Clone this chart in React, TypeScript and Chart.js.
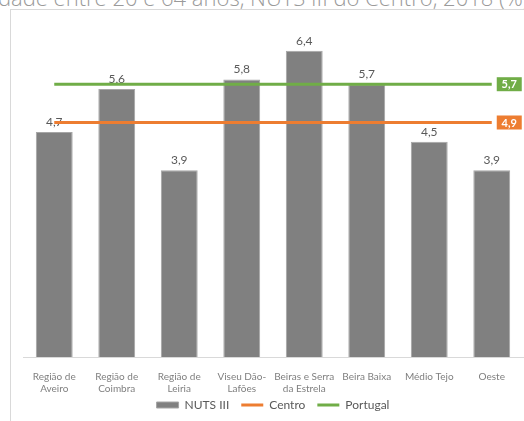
import React, { useEffect, useRef } from "react";
import { Chart, registerables } from "chart.js";

Chart.register(...registerables);

const categories: string[][] = [
  ["Região de", "Aveiro"],
  ["Região de", "Coimbra"],
  ["Região de", "Leiria"],
  ["Viseu Dão-", "Lafões"],
  ["Beiras e Serra", "da Estrela"],
  ["Beira Baixa"],
  ["Médio Tejo"],
  ["Oeste"],
];
const nutsValues = [4.7, 5.6, 3.9, 5.8, 6.4, 5.7, 4.5, 3.9];
const centroValue = 4.9;
const portugalValue = 5.7;
const seriesNames = ["NUTS III", "Centro", "Portugal"];
const titleText = "idade entre 20 e 64 anos, NUTS III do Centro, 2018 (%)";

const fmt = (v: number) => v.toFixed(1).replace(".", ",");

const FONT = "Lato, 'Open Sans', sans-serif";

export default function App() {
  const ref = useRef<HTMLCanvasElement | null>(null);

  useEffect(() => {
    if (!ref.current) return;
    const barLabels = {
      id: "barLabels",
      afterDatasetDraw(chart: any, args: any) {
        if (args.index !== 0) return;
        const ctx = chart.ctx;
        const meta = chart.getDatasetMeta(0);
        ctx.save();
        ctx.font = `12px ${FONT}`;
        ctx.fillStyle = "#595959";
        ctx.textAlign = "center";
        ctx.textBaseline = "alphabetic";
        meta.data.forEach((el: any, i: number) => {
          ctx.fillText(fmt(nutsValues[i]), el.x, el.y - 6);
        });
        ctx.restore();
      },
    };
    const endBoxes = {
      id: "endBoxes",
      afterDatasetsDraw(chart: any) {
        const ctx = chart.ctx;
        ctx.save();
        [1, 2].forEach((di) => {
          const ds = chart.data.datasets[di];
          const meta = chart.getDatasetMeta(di);
          const last = meta.data[meta.data.length - 1];
          const x = last.x + 5;
          const y = last.y;
          ctx.fillStyle = ds.borderColor;
          ctx.fillRect(x, y - 7, 25, 14);
          ctx.fillStyle = "#ffffff";
          ctx.font = `bold 11px ${FONT}`;
          ctx.textAlign = "center";
          ctx.textBaseline = "middle";
          ctx.fillText(fmt(ds.data[ds.data.length - 1]), x + 12.5, y + 0.5);
        });
        ctx.restore();
      },
    };

    const chart = new Chart(ref.current, {
      type: "bar",
      data: {
        labels: categories,
        datasets: [
          {
            type: "bar",
            label: seriesNames[0],
            data: nutsValues,
            backgroundColor: "#808080",
            borderColor: "#a6a6a6",
            borderWidth: 1,
            categoryPercentage: 1,
            barPercentage: 0.59,
            order: 2,
            pointStyle: "rect",
          } as any,
          {
            type: "line",
            label: seriesNames[1],
            data: categories.map(() => centroValue),
            borderColor: "#ed7d31",
            backgroundColor: "#ed7d31",
            borderWidth: 3,
            pointRadius: 0,
            pointStyle: "line",
            order: 1,
          } as any,
          {
            type: "line",
            label: seriesNames[2],
            data: categories.map(() => portugalValue),
            borderColor: "#70ad47",
            backgroundColor: "#70ad47",
            borderWidth: 3,
            pointRadius: 0,
            pointStyle: "line",
            order: 0,
          } as any,
        ],
      },
      options: {
        animation: false,
        responsive: false,
        maintainAspectRatio: false,
        layout: { padding: { left: 23, right: 1, top: 22, bottom: 0 } },
        plugins: {
          tooltip: { enabled: false },
          legend: {
            position: "bottom",
            labels: {
              usePointStyle: true,
              pointStyleWidth: 22,
              boxHeight: 6,
              padding: 0,
              color: "#595959",
              font: { family: FONT, size: 12 },
              sort: (a: any, b: any) => a.datasetIndex - b.datasetIndex,
              generateLabels: (chart: any) => {
                const items = Chart.defaults.plugins.legend.labels.generateLabels(chart);
                return items.map((it: any) => ({
                  ...it,
                  text: it.datasetIndex < 2 ? it.text + "\u2002\u2002" : it.text,
                }));
              },
            },
          },
        },
        scales: {
          x: {
            grid: { display: false },
            border: { display: true, color: "#d9d9d9", width: 1 },
            ticks: {
              color: "#7f7f7f",
              font: { family: FONT, size: 10, lineHeight: 1.2 },
              padding: 6,
              maxRotation: 0,
              autoSkip: false,
            },
            afterFit: (scale: any) => {
              scale.height = 42;
            },
          },
          y: {
            display: false,
            min: 0,
            max: 7,
          },
        },
      },
      plugins: [barLabels, endBoxes],
    } as any);
    return () => chart.destroy();
  }, []);

  return (
    <div
      style={{
        position: "fixed",
        left: 0,
        top: 0,
        width: 524,
        height: 421,
        overflow: "hidden",
        background: "#ffffff",
      }}
    >
      <div
        style={{
          position: "absolute",
          left: -7,
          top: -14,
          whiteSpace: "nowrap",
          fontFamily: "'Open Sans', sans-serif",
          fontWeight: 300,
          fontSize: 22,
          lineHeight: "22px",
          color: "#9a9a9a",
        }}
      >
        {titleText}
      </div>
      <div
        style={{
          position: "absolute",
          left: 10,
          top: 9,
          width: 600,
          height: 500,
          borderLeft: "1px solid #d9d9d9",
          borderTop: "1px solid #d9d9d9",
        }}
      />
      <canvas
        ref={ref}
        width={524}
        height={421}
        style={{ position: "absolute", left: 0, top: 0, width: 524, height: 421 }}
      />
    </div>
  );
}
